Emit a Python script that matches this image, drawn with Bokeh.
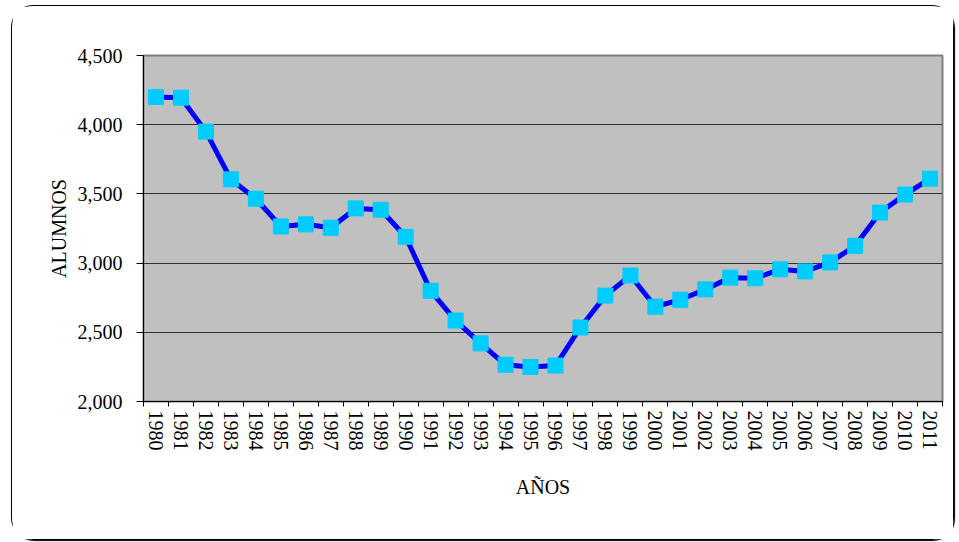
from bokeh.plotting import figure
from bokeh.models import FixedTicker, NumeralTickFormatter, Range1d
from bokeh.embed import file_html
from bokeh.resources import INLINE

years = [str(y) for y in range(1980, 2012)]
alumnos = [4200, 4195, 3950, 3605, 3465, 3265, 3280, 3255, 3395, 3385, 3190, 2800,
           2585, 2420, 2265, 2250, 2260, 2535, 2765, 2910, 2685, 2735, 2810, 2895,
           2890, 2955, 2940, 3005, 3125, 3365, 3495, 3610]
y_ticks = [2000, 2500, 3000, 3500, 4000, 4500]

xs = [i + 0.5 for i in range(len(years))]

p = figure(width=943, height=535, output_backend="svg", toolbar_location=None,
           x_range=Range1d(0, len(years)), y_range=Range1d(2000, 4500),
           min_border_left=131, min_border_top=49, min_border_right=13, min_border_bottom=140)
p.styles = {"border": "1px solid black", "border-radius": "22px",
            "box-shadow": "1px 1px 1px black", "margin-left": "11px", "margin-top": "5px"}

p.border_fill_color = "white"
p.background_fill_color = "#C0C0C0"
p.outline_line_color = "#808080"
p.outline_line_width = 2

p.line(xs, alumnos, line_color="#0000FF", line_width=5)
p.scatter(xs, alumnos, marker="square", size=15, fill_color="#00CCFF", line_color="#00CCFF")

p.xgrid.visible = False
p.ygrid.grid_line_color = "#303030"
p.ygrid.grid_line_width = 1
p.ygrid.ticker = FixedTicker(ticks=y_ticks)

p.yaxis.ticker = FixedTicker(ticks=y_ticks)
p.yaxis.formatter = NumeralTickFormatter(format="0,0")
p.yaxis.axis_label = "ALUMNOS"
p.xaxis.axis_label = "AÑOS"

p.xaxis.ticker = FixedTicker(ticks=xs, minor_ticks=list(range(len(years) + 1)))
p.xaxis.major_label_overrides = {x: y for x, y in zip(xs, years)}
p.xaxis.major_label_orientation = "vertical"
p.xaxis.major_tick_line_color = None
p.xaxis.minor_tick_line_color = "black"
p.xaxis.minor_tick_out = 5
p.xaxis.minor_tick_in = 0

p.yaxis.minor_tick_line_color = None
p.yaxis.major_tick_out = 7
p.yaxis.major_tick_in = 0

for ax in (p.xaxis, p.yaxis):
    ax.axis_line_color = "black"
    ax.axis_line_width = 1
    ax.major_label_text_font = "Liberation Serif"
    ax.major_label_text_font_size = "20px"
    ax.major_label_text_color = "black"
    ax.axis_label_text_font = "Liberation Serif"
    ax.axis_label_text_font_size = "20px"
    ax.axis_label_text_font_style = "normal"
    ax.axis_label_text_color = "black"

p.xaxis.major_label_standoff = 3
p.xaxis.axis_label_standoff = 22
p.yaxis.major_label_standoff = 14
p.yaxis.axis_label_standoff = 5

open("out.html", "w").write(file_html(p, INLINE))
